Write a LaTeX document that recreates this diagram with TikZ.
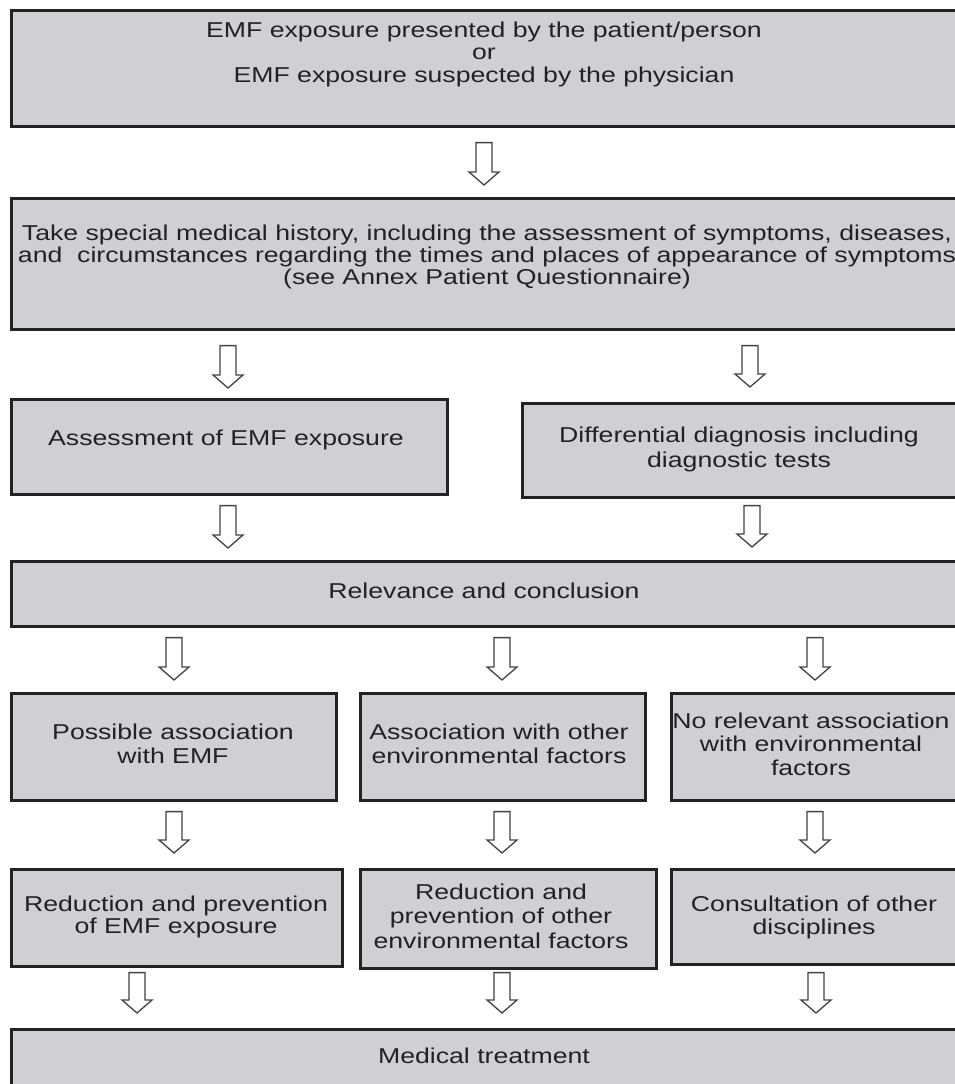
\documentclass[tikz,border=0pt]{standalone}
\usepackage{fontspec}
\setmainfont{Liberation Sans}[FakeStretch=1.24]
\usetikzlibrary{calc}
\definecolor{boxfill}{RGB}{208,208,210}
\definecolor{ink}{RGB}{34,34,34}
\tikzset{
  box/.style={draw=ink, line width=2.6pt, fill=boxfill, inner sep=0pt, anchor=north west},
  txt/.style={text=ink, inner sep=0pt, align=center},
  fsA/.style={font=\fontsize{21.5}{22.5}\selectfont},
  fsB/.style={font=\fontsize{21.5}{24.5}\selectfont},
  harrow/.style={draw=ink!85, line width=1.3pt, fill=white, line join=miter},
}
\newcommand\blk[5]{%
  \draw[harrow] let \p1=(#1.south), \p2=(#2.north) in
  ({#3pt-8pt},{\y1-#4pt}) -- ({#3pt+8pt},{\y1-#4pt}) --
  ({#3pt+8pt},{\y2+#5pt+13pt}) -- ({#3pt+15pt},{\y2+#5pt+13pt}) --
  ({#3pt},{\y2+#5pt}) -- ({#3pt-15pt},{\y2+#5pt+13pt}) --
  ({#3pt-8pt},{\y2+#5pt+13pt}) -- cycle;}
\begin{document}
\begin{tikzpicture}[x=1pt,y=-1pt]
\useasboundingbox (0,0) rectangle (955,1084);
\clip (0,0) rectangle (955,1084);
\fill[white] (0,0) rectangle (955,1084);

% boxes
\node[box, minimum width=948pt, minimum height=116pt] (b1) at (10,9) {};
\node[box, minimum width=948pt, minimum height=131pt] (b2) at (10,197) {};
\node[box, minimum width=436pt, minimum height=95pt] (b3a) at (10,398) {};
\node[box, minimum width=437pt, minimum height=94pt] (b3b) at (521,402) {};
\node[box, minimum width=948pt, minimum height=65pt] (b4) at (10,560) {};
\node[box, minimum width=325pt, minimum height=107pt] (b5a) at (10,692) {};
\node[box, minimum width=285pt, minimum height=107pt] (b5b) at (359,692) {};
\node[box, minimum width=288pt, minimum height=107pt] (b5c) at (670,692) {};
\node[box, minimum width=331pt, minimum height=97pt] (b6a) at (10,868) {};
\node[box, minimum width=296pt, minimum height=99pt] (b6b) at (359,868) {};
\node[box, minimum width=288pt, minimum height=95pt] (b6c) at (670,868) {};
\node[box, minimum width=948pt, minimum height=80pt] (b7) at (10,1028) {};

% texts
\node[txt, fsA, anchor=north] (t1) at (484,21.6)
  {EMF exposure presented by the patient/person\\or\\EMF exposure suspected by the physician};
\node[txt, font=\fontsize{21.5}{22}\selectfont, anchor=north] (t2) at (487,224.6)
  {Take special medical history, including the assessment of symptoms, diseases,\\
   and~ circumstances regarding the times and places of appearance of symptoms\\
   (see Annex Patient Questionnaire)};
\node[txt, fsA, anchor=base] (t3a) at (226,445) {Assessment of EMF exposure};
\node[txt, font=\fontsize{21.5}{25}\selectfont, anchor=north] (t3b) at (739,426.6)
  {Differential diagnosis including\\diagnostic tests};
\node[txt, fsA, anchor=base] (t4) at (484,598) {Relevance and conclusion};
\node[txt, fsB, anchor=north] (t5a) at (173,723.6) {Possible association\\with EMF};
\node[txt, fsB, anchor=north] (t5b) at (499,723.6) {Association with other\\environmental factors};
\node[txt, font=\fontsize{21.5}{23.5}\selectfont, anchor=north] (t5c) at (811,712.6)
  {No relevant association\\with environmental\\factors};
\node[txt, fsA, anchor=north] (t6a) at (176,895.6) {Reduction and prevention\\of EMF exposure};
\node[txt, fsB, anchor=north] (t6b) at (501,883.6) {Reduction and\\prevention of other\\environmental factors};
\node[txt, font=\fontsize{21.5}{23}\selectfont, anchor=north] (t6c) at (814,895.6) {Consultation of other\\disciplines};
\node[txt, fsA, anchor=base] (t7) at (484,1063) {Medical treatment};

% arrows: from, to, x, top gap, bottom gap
\blk{b1}{b2}{484}{15}{12}
\blk{b2}{b3a}{228}{15}{10}
\blk{b2}{b3b}{750}{15}{15}
\blk{b3a}{b4}{228}{10}{12}
\blk{b3b}{b4}{752}{7}{13}
\blk{b4}{b5a}{174}{10}{12}
\blk{b4}{b5b}{502}{10}{12}
\blk{b4}{b5c}{815}{10}{12}
\blk{b5a}{b6a}{174}{10}{15}
\blk{b5b}{b6b}{502}{10}{15}
\blk{b5c}{b6c}{815}{10}{15}
\blk{b6a}{b7}{137}{5}{15}
\blk{b6b}{b7}{502}{3}{15}
\blk{b6c}{b7}{816}{7}{15}
\end{tikzpicture}
\end{document}
